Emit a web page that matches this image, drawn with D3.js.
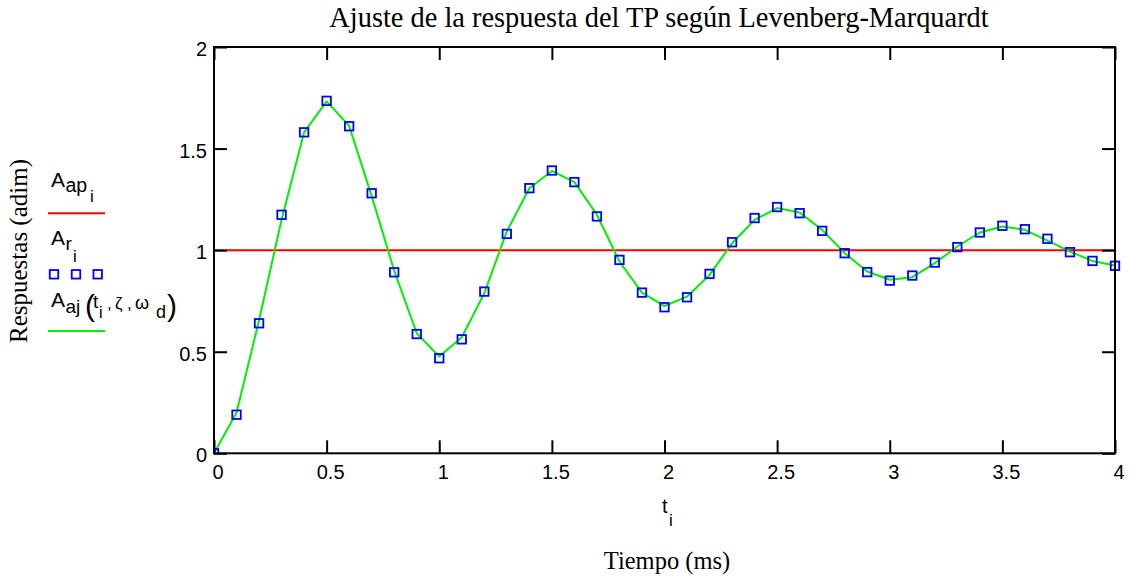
<!DOCTYPE html>
<html>
<head>
<meta charset="utf-8">
<script src="https://cdn.jsdelivr.net/npm/d3@7"></script>
<style>
  html, body { margin: 0; padding: 0; background: #fff; }
  svg { display: block; }
</style>
</head>
<body>
<svg id="chart" width="1130" height="577"></svg>
<script>
// ---- Data ----
const tValues = [0,0.1,0.2,0.3,0.4,0.5,0.6,0.7,0.8,0.9,1.0,1.1,1.2,1.3,1.4,1.5,1.6,1.7,1.8,1.9,2.0,
                 2.1,2.2,2.3,2.4,2.5,2.6,2.7,2.8,2.9,3.0,3.1,3.2,3.3,3.4,3.5,3.6,3.7,3.8,3.9,4.0];
// measured response A_r (squares)
const arValues = [0,0.19,0.64,1.174,1.58,1.735,1.61,1.28,0.891,0.587,0.468,0.561,0.796,1.08,1.305,1.392,1.335,1.166,0.952,0.791,0.719,
                  0.768,0.883,1.039,1.158,1.212,1.182,1.095,0.985,0.892,0.850,0.875,0.939,1.015,1.087,1.120,1.103,1.056,0.990,0.947,0.923];
// fitted response A_aj (green line)
const ajValues = [0,0.20,0.655,1.15,1.58,1.732,1.612,1.266,0.899,0.591,0.476,0.571,0.788,1.092,1.305,1.39,1.335,1.174,0.944,0.791,0.725,
                  0.771,0.878,1.034,1.149,1.207,1.185,1.10,0.985,0.895,0.854,0.867,0.936,1.018,1.087,1.116,1.10,1.047,0.993,0.947,0.924];
// reference level A_ap (red line)
const apValues = [1,1,1,1,1,1,1,1,1,1,1,1,1,1,1,1,1,1,1,1,1,1,1,1,1,1,1,1,1,1,1,1,1,1,1,1,1,1,1,1,1];
const xTicks = [0,0.5,1,1.5,2,2.5,3,3.5,4];
const yTicks = [0,0.5,1,1.5,2];
const xTickLabels = ["0","0.5","1","1.5","2","2.5","3","3.5","4"];
const yTickLabels = ["0","0.5","1","1.5","2"];
const titleText = "Ajuste de la respuesta del TP según Levenberg-Marquardt";
const yAxisTitle = "Respuestas (adim)";
const xAxisTitle = "Tiempo (ms)";

// ---- Layout ----
const L = 214, R = 1115, T = 47, B = 453.3;
const svg = d3.select("#chart");
const x = d3.scaleLinear().domain([0, 4]).range([L, R]);
const y = d3.scaleLinear().domain([0, 2]).range([B, T]);
const SANS = "'Liberation Sans', Arial, sans-serif";
const SERIF = "'Liberation Serif', 'Times New Roman', serif";

svg.append("defs").append("clipPath").attr("id", "clip")
  .append("rect").attr("x", L).attr("y", T - 10).attr("width", R - L + 6).attr("height", B - T + 10);

const plot = svg.append("g").attr("clip-path", "url(#clip)");

// red reference line
plot.append("path")
  .datum(tValues.map((t, i) => [t, apValues[i]]))
  .attr("fill", "none").attr("stroke", "#ff0000").attr("stroke-width", 2)
  .attr("d", d3.line().x(d => x(d[0])).y(d => y(d[1])));

// green fitted line
plot.append("path")
  .datum(tValues.map((t, i) => [t, ajValues[i]]))
  .attr("fill", "none").attr("stroke", "#00f000").attr("stroke-width", 2)
  .attr("stroke-linejoin", "round")
  .attr("d", d3.line().x(d => x(d[0])).y(d => y(d[1])));

// blue squares
const sq = 8.5;
plot.selectAll("rect.pt").data(tValues.map((t, i) => [t, arValues[i]])).enter()
  .append("rect").attr("class", "pt")
  .attr("x", d => x(d[0]) - sq / 2).attr("y", d => y(d[1]) - sq / 2)
  .attr("width", sq).attr("height", sq)
  .attr("fill", "none").attr("stroke", "#0000ff").attr("stroke-width", 1.8);

// ---- Axes (ticks inside) ----
function styleAxis(g) {
  g.select(".domain").remove();
  g.selectAll(".tick line").attr("stroke", "#000").attr("stroke-width", 2);
}
svg.append("g").attr("transform", `translate(0,${B})`)
  .call(d3.axisBottom(x).tickValues(xTicks).tickSize(-13).tickFormat(""))
  .call(styleAxis);
svg.append("g").attr("transform", `translate(0,${T})`)
  .call(d3.axisTop(x).tickValues(xTicks).tickSize(-13).tickFormat(""))
  .call(styleAxis);
svg.append("g").attr("transform", `translate(${L},0)`)
  .call(d3.axisLeft(y).tickValues(yTicks).tickSize(-13).tickFormat(""))
  .call(styleAxis);
svg.append("g").attr("transform", `translate(${R},0)`)
  .call(d3.axisRight(y).tickValues(yTicks).tickSize(-13).tickFormat(""))
  .call(styleAxis);

// frame
svg.append("rect").attr("x", L).attr("y", T).attr("width", R - L).attr("height", B - T)
  .attr("fill", "none").attr("stroke", "#000").attr("stroke-width", 2);

// tick labels
svg.append("g").selectAll("text").data(xTicks).enter().append("text")
  .attr("x", d => x(d) + 4).attr("y", B + 26)
  .attr("text-anchor", "middle").attr("font-family", SANS).attr("font-size", 20)
  .text((d, i) => xTickLabels[i]);
svg.append("g").selectAll("text").data(yTicks).enter().append("text")
  .attr("x", L - 7).attr("y", d => y(d) + 9)
  .attr("text-anchor", "end").attr("font-family", SANS).attr("font-size", 20)
  .text((d, i) => yTickLabels[i]);

// title
svg.append("text").attr("x", 659).attr("y", 27).attr("text-anchor", "middle")
  .attr("font-family", SERIF).attr("font-size", 28.4).text(titleText);

// x axis labels
const tl = svg.append("text").attr("font-family", SANS).attr("font-size", 20);
tl.append("tspan").attr("x", 662).attr("y", 513).text("t");
tl.append("tspan").attr("x", 669).attr("y", 526).attr("font-size", 17).text("i");
svg.append("text").attr("x", 667).attr("y", 569).attr("text-anchor", "middle")
  .attr("font-family", SERIF).attr("font-size", 24.5).text(xAxisTitle);

// y axis title
svg.append("text").attr("transform", "translate(27,251) rotate(-90)")
  .attr("text-anchor", "middle").attr("font-family", SERIF).attr("font-size", 25).text(yAxisTitle);

// ---- Legend ----
const lg = svg.append("g").attr("font-family", SANS);
// A_ap_i
const t1 = lg.append("text").attr("font-size", 21);
t1.append("tspan").attr("x", 51).attr("y", 187).text("A");
t1.append("tspan").attr("x", 65.5).attr("y", 192).attr("font-size", 19.5).text("ap");
t1.append("tspan").attr("x", 90).attr("y", 201.5).attr("font-size", 17).text("i");
lg.append("line").attr("x1", 48).attr("x2", 105).attr("y1", 213.3).attr("y2", 213.3)
  .attr("stroke", "#ff0000").attr("stroke-width", 2);
// A_r_i
const t2 = lg.append("text").attr("font-size", 21);
t2.append("tspan").attr("x", 51).attr("y", 245).text("A");
t2.append("tspan").attr("x", 65.5).attr("y", 250).attr("font-size", 19).text("r");
t2.append("tspan").attr("x", 73).attr("y", 261.5).attr("font-size", 17).text("i");
lg.selectAll("rect.lgsq").data([54, 76, 97.7]).enter().append("rect").attr("class", "lgsq")
  .attr("x", d => d - sq / 2).attr("y", 274.3 - sq / 2).attr("width", sq).attr("height", sq)
  .attr("fill", "none").attr("stroke", "#0000ff").attr("stroke-width", 1.8);
// A_aj(t_i, ζ, ω_d)
const t3 = lg.append("text").attr("font-size", 21);
t3.append("tspan").attr("x", 51).attr("y", 307).text("A");
t3.append("tspan").attr("x", 65.5).attr("y", 313).attr("font-size", 19).text("aj");
t3.append("tspan").attr("x", 85).attr("y", 316).attr("font-size", 30).attr("font-weight", 300).text("(");
t3.append("tspan").attr("x", 93).attr("y", 308).attr("font-size", 19).text("t");
t3.append("tspan").attr("x", 99).attr("y", 318).attr("font-size", 16).text("i");
t3.append("tspan").attr("x", 107).attr("y", 309).attr("font-size", 17).text(",");
t3.append("tspan").attr("x", 115).attr("y", 309).attr("font-size", 17).text("ζ");
t3.append("tspan").attr("x", 127).attr("y", 309).attr("font-size", 17).text(",");
t3.append("tspan").attr("x", 135).attr("y", 309).attr("font-size", 18).text("ω");
t3.append("tspan").attr("x", 156).attr("y", 318).attr("font-size", 18).text("d");
t3.append("tspan").attr("x", 167).attr("y", 316).attr("font-size", 30).attr("font-weight", 300).text(")");
lg.append("line").attr("x1", 48).attr("x2", 105).attr("y1", 331).attr("y2", 331)
  .attr("stroke", "#00f000").attr("stroke-width", 2);
</script>
</body>
</html>
